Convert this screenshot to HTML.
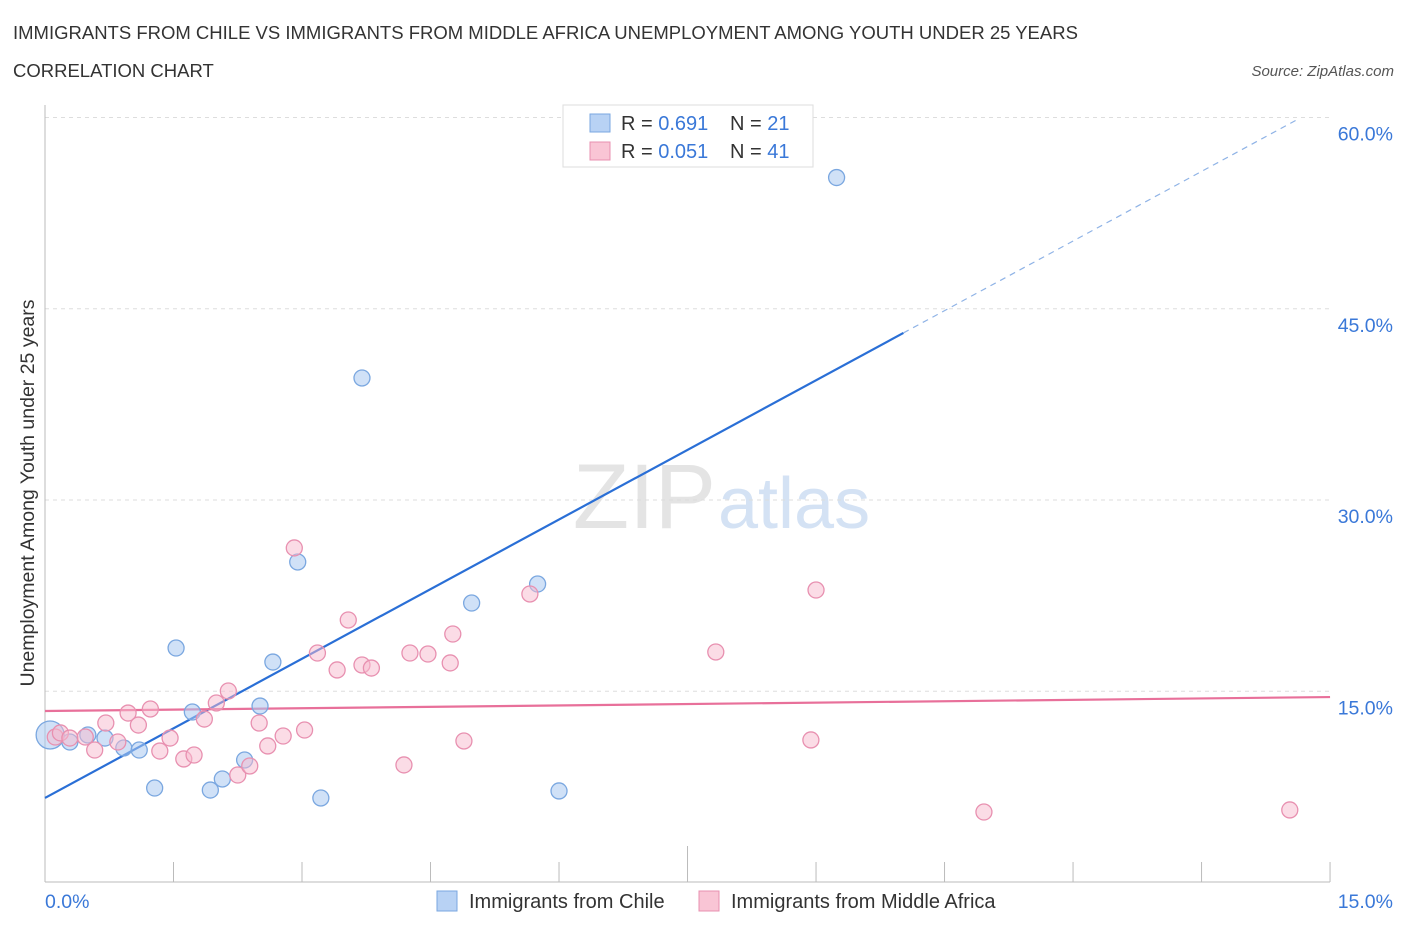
<!DOCTYPE html>
<html><head><meta charset="utf-8"><style>
body{margin:0;background:#fff;font-family:"Liberation Sans",sans-serif;}
svg text{font-family:"Liberation Sans",sans-serif;}
</style></head><body>
<svg id="chart" width="1406" height="930" viewBox="0 0 1406 930">
<text x="13" y="39" font-size="18.5" fill="#333">IMMIGRANTS FROM CHILE VS IMMIGRANTS FROM MIDDLE AFRICA UNEMPLOYMENT AMONG YOUTH UNDER 25 YEARS</text>
<text x="13" y="77" font-size="18.5" fill="#333">CORRELATION CHART</text>
<text x="1394" y="76" font-size="15" fill="#555" font-style="italic" text-anchor="end">Source: ZipAtlas.com</text>
<text x="716" y="528" font-size="92" fill="#e4e4e4" text-anchor="end" font-family="Liberation Serif">ZIP</text>
<text x="718" y="528" font-size="72" fill="#d4e2f4">atlas</text>
<g id="grid"></g><g id="axes"></g><g id="lines"></g><g id="pts"></g>
<text transform="translate(34,493) rotate(-90)" font-size="19.5" fill="#333" text-anchor="middle">Unemployment Among Youth under 25 years</text>
<text x="45" y="908" font-size="19.5" fill="#3a78d8">0.0%</text>
<text x="1393" y="908" font-size="19.5" fill="#3a78d8" text-anchor="end">15.0%</text>
<g>
<rect x="563" y="105" width="250" height="62" fill="#fff" stroke="#ddd"/>
<rect x="590" y="114" width="20" height="18" fill="#b8d2f4" stroke="#7aa7e0"/>
<rect x="590" y="142" width="20" height="18" fill="#f9c5d5" stroke="#e890b0"/>
<text x="621" y="130" font-size="20" fill="#333">R = <tspan fill="#3a78d8">0.691</tspan><tspan x="730">N = </tspan><tspan fill="#3a78d8">21</tspan></text>
<text x="621" y="158" font-size="20" fill="#333">R = <tspan fill="#3a78d8">0.051</tspan><tspan x="730">N = </tspan><tspan fill="#3a78d8">41</tspan></text>
</g>
<g>
<rect x="437" y="891" width="20" height="20" fill="#b8d2f4" stroke="#7aa7e0"/>
<text x="469" y="908" font-size="20" fill="#333">Immigrants from Chile</text>
<rect x="699" y="891" width="20" height="20" fill="#f9c5d5" stroke="#e890b0"/>
<text x="731" y="908" font-size="20" fill="#333">Immigrants from Middle Africa</text>
</g>
</svg>
<script>
const yTicks=[15,30,45,60];
const yTickLabels=["15.0%","30.0%","45.0%","60.0%"];
const chileX=[0.06,0.29,0.50,0.70,0.92,1.10,1.28,1.53,1.72,1.93,2.07,2.33,2.51,2.66,2.95,3.22,3.70,4.98,5.75,6.00,9.24];
const chileY=[11.57,11.02,11.57,11.33,10.55,10.39,7.41,18.39,13.37,7.25,8.12,9.61,13.84,17.29,25.14,6.63,39.57,21.92,23.41,7.18,55.29];
const africaX=[0.12,0.18,0.29,0.47,0.58,0.71,0.85,0.97,1.09,1.23,1.34,1.46,1.62,1.74,1.86,2.0,2.14,2.25,2.39,2.5,2.6,2.78,2.91,3.03,3.18,3.41,3.54,3.70,3.81,4.19,4.26,4.47,4.73,4.76,4.89,5.66,7.83,8.94,9.0,10.96,14.53];
const africaY=[11.41,11.73,11.33,11.41,10.39,12.51,11.02,13.29,12.35,13.61,10.31,11.33,9.69,10.0,12.82,14.08,15.02,8.43,9.14,12.51,10.71,11.49,26.24,11.96,18.0,16.67,20.59,17.06,16.82,9.22,18.0,17.92,17.22,19.49,11.10,22.63,18.08,11.18,22.94,5.53,5.69];
const chileTrend=[6.63,3.64];
const africaTrend=[13.45,0.073];
const X=v=>45+v*85.67, Y=v=>882.5-v*12.75;
const NS="http://www.w3.org/2000/svg";
function mk(tag,attrs,parent){const e=document.createElementNS(NS,tag);for(const k in attrs)e.setAttribute(k,attrs[k]);document.getElementById(parent).appendChild(e);return e;}
yTicks.forEach((t,i)=>{
 const l=mk('line',{x1:45,x2:1330,y1:Y(t),y2:Y(t),stroke:'#ddd','stroke-dasharray':'4,4'},'grid');
 
 
 const tx=mk('text',{x:1393,y:Y(t)+23,'font-size':19.5,fill:'#3a78d8','text-anchor':'end'},'grid');
 tx.textContent=yTickLabels[i];
 
 
});
let a=mk('line',{x1:45,x2:45,y1:105,y2:882,stroke:'#bbb'},'axes');


a=mk('line',{x1:45,x2:1330,y1:882,y2:882,stroke:'#bbb'},'axes');


for(let i=0;i<=10;i++){
 const t=mk('line',{x1:X(i*1.5),x2:X(i*1.5),y1:i==5?846:862,y2:882,stroke:'#bbb'},'axes');
 
 
}
let ln=mk('line',{x1:X(0),y1:Y(chileTrend[0]),x2:X(10.02),y2:Y(chileTrend[0]+chileTrend[1]*10.02),stroke:'#2a6fd6','stroke-width':2.2},'lines');


ln=mk('line',{x1:X(10.02),y1:Y(chileTrend[0]+chileTrend[1]*10.02),x2:X(14.6),y2:Y(chileTrend[0]+chileTrend[1]*14.6),stroke:'#8fb3e6','stroke-width':1.2,'stroke-dasharray':'6,5'},'lines');


ln=mk('line',{x1:X(0),y1:Y(africaTrend[0]),x2:X(15),y2:Y(africaTrend[0]+africaTrend[1]*15),stroke:'#e8709a','stroke-width':2.2},'lines');


chileX.forEach((x,i)=>{
 const c=mk('circle',{cx:X(x),cy:Y(chileY[i]),r:i==0?14:8,fill:'rgba(170,200,240,0.55)',stroke:'#7aa7e0','stroke-width':1.3},'pts');
 
 
});
africaX.forEach((x,i)=>{
 const c=mk('circle',{cx:X(x),cy:Y(africaY[i]),r:8,fill:'rgba(248,185,205,0.5)',stroke:'#e890b0','stroke-width':1.3},'pts');
 
 
});
</script>
</body></html>
